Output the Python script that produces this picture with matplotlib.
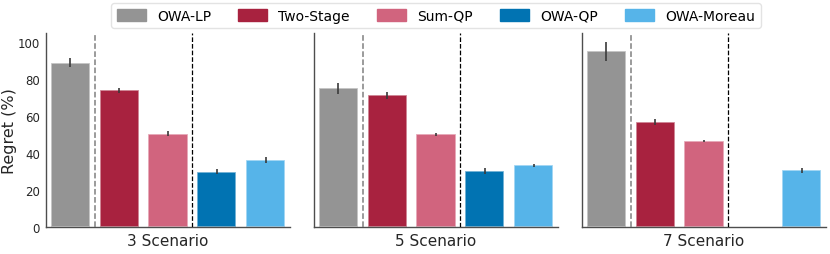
import matplotlib
matplotlib.use('Agg')
import matplotlib.pyplot as plt
import numpy as np
from matplotlib.patches import Patch

methods = ['OWA-LP', 'Two-Stage', 'Sum-QP', 'OWA-QP', 'OWA-Moreau']
colors = ['#949494', '#A8223F', '#D1647E', '#0173B2', '#56B4E9']
scenarios = ['3 Scenario', '5 Scenario', '7 Scenario']
regret_3 = [89.0, 73.9, 50.6, 29.9, 36.4]
err_3 = [2.5, 1.3, 1.3, 1.4, 1.5]
regret_5 = [75.1, 71.2, 50.1, 30.4, 33.3]
err_5 = [3.0, 1.7, 0.8, 1.5, 0.8]
regret_7 = [95.0, 56.9, 46.7, np.nan, 30.6]
err_7 = [4.9, 1.8, 0.5, np.nan, 1.5]

values = [regret_3, regret_5, regret_7]
errors = [err_3, err_5, err_7]

fig = plt.figure(figsize=(8.3, 2.55), dpi=100)
lefts = [46/830, 314/830, 582/830]
bottom = 1 - 228/255
height = (228 - 34)/255
width = 244/830
axes = [fig.add_axes([l, bottom, width, height]) for l in lefts]

for i, ax in enumerate(axes):
    vals = values[i]
    errs = errors[i]
    for j, (v, e) in enumerate(zip(vals, errs)):
        if np.isnan(v):
            continue
        ax.bar(j, v, width=0.8, color=colors[j], edgecolor=(1, 1, 1, 0.55), linewidth=1.2, zorder=2)
        ax.errorbar(j, v, yerr=e, color='#3a3a3a', lw=1.2, capsize=0, zorder=3)
    ax.axvline(0.5, color='#808080', ls='--', lw=1.1, zorder=4)
    ax.axvline(2.5, color='black', ls='--', lw=0.9, zorder=4)
    ax.set_xlim(-0.5, 4.5)
    ax.set_ylim(0, 105)
    ax.set_xticks([])
    ax.set_xlabel(scenarios[i], fontsize=11, color='#262626', labelpad=4)
    for s in ['top', 'right']:
        ax.spines[s].set_visible(False)
    for s in ['left', 'bottom']:
        ax.spines[s].set_color('#4d4d4d')
        ax.spines[s].set_linewidth(1.0)
    ax.tick_params(axis='y', length=0, labelsize=8.5, labelcolor='#262626', pad=4.5)
    if i == 0:
        ax.set_yticks([0, 20, 40, 60, 80, 100])
        ax.set_ylabel('Regret (%)', fontsize=11.5, color='#262626')
        ax.yaxis.set_label_coords(-0.12, 0.5)
    else:
        ax.set_yticks([])

handles = [Patch(facecolor=c, edgecolor=c) for c in colors]
axes[1].legend(handles, methods, loc='lower center', bbox_to_anchor=(0.5, 1.025), ncol=5,
               fontsize=10, frameon=True, handlelength=2.1, handleheight=0.9,
               handletextpad=0.8, columnspacing=1.95, borderpad=0.4, borderaxespad=0,
               edgecolor='#dddddd', fancybox=True)

fig.savefig('out.png', dpi=100)
